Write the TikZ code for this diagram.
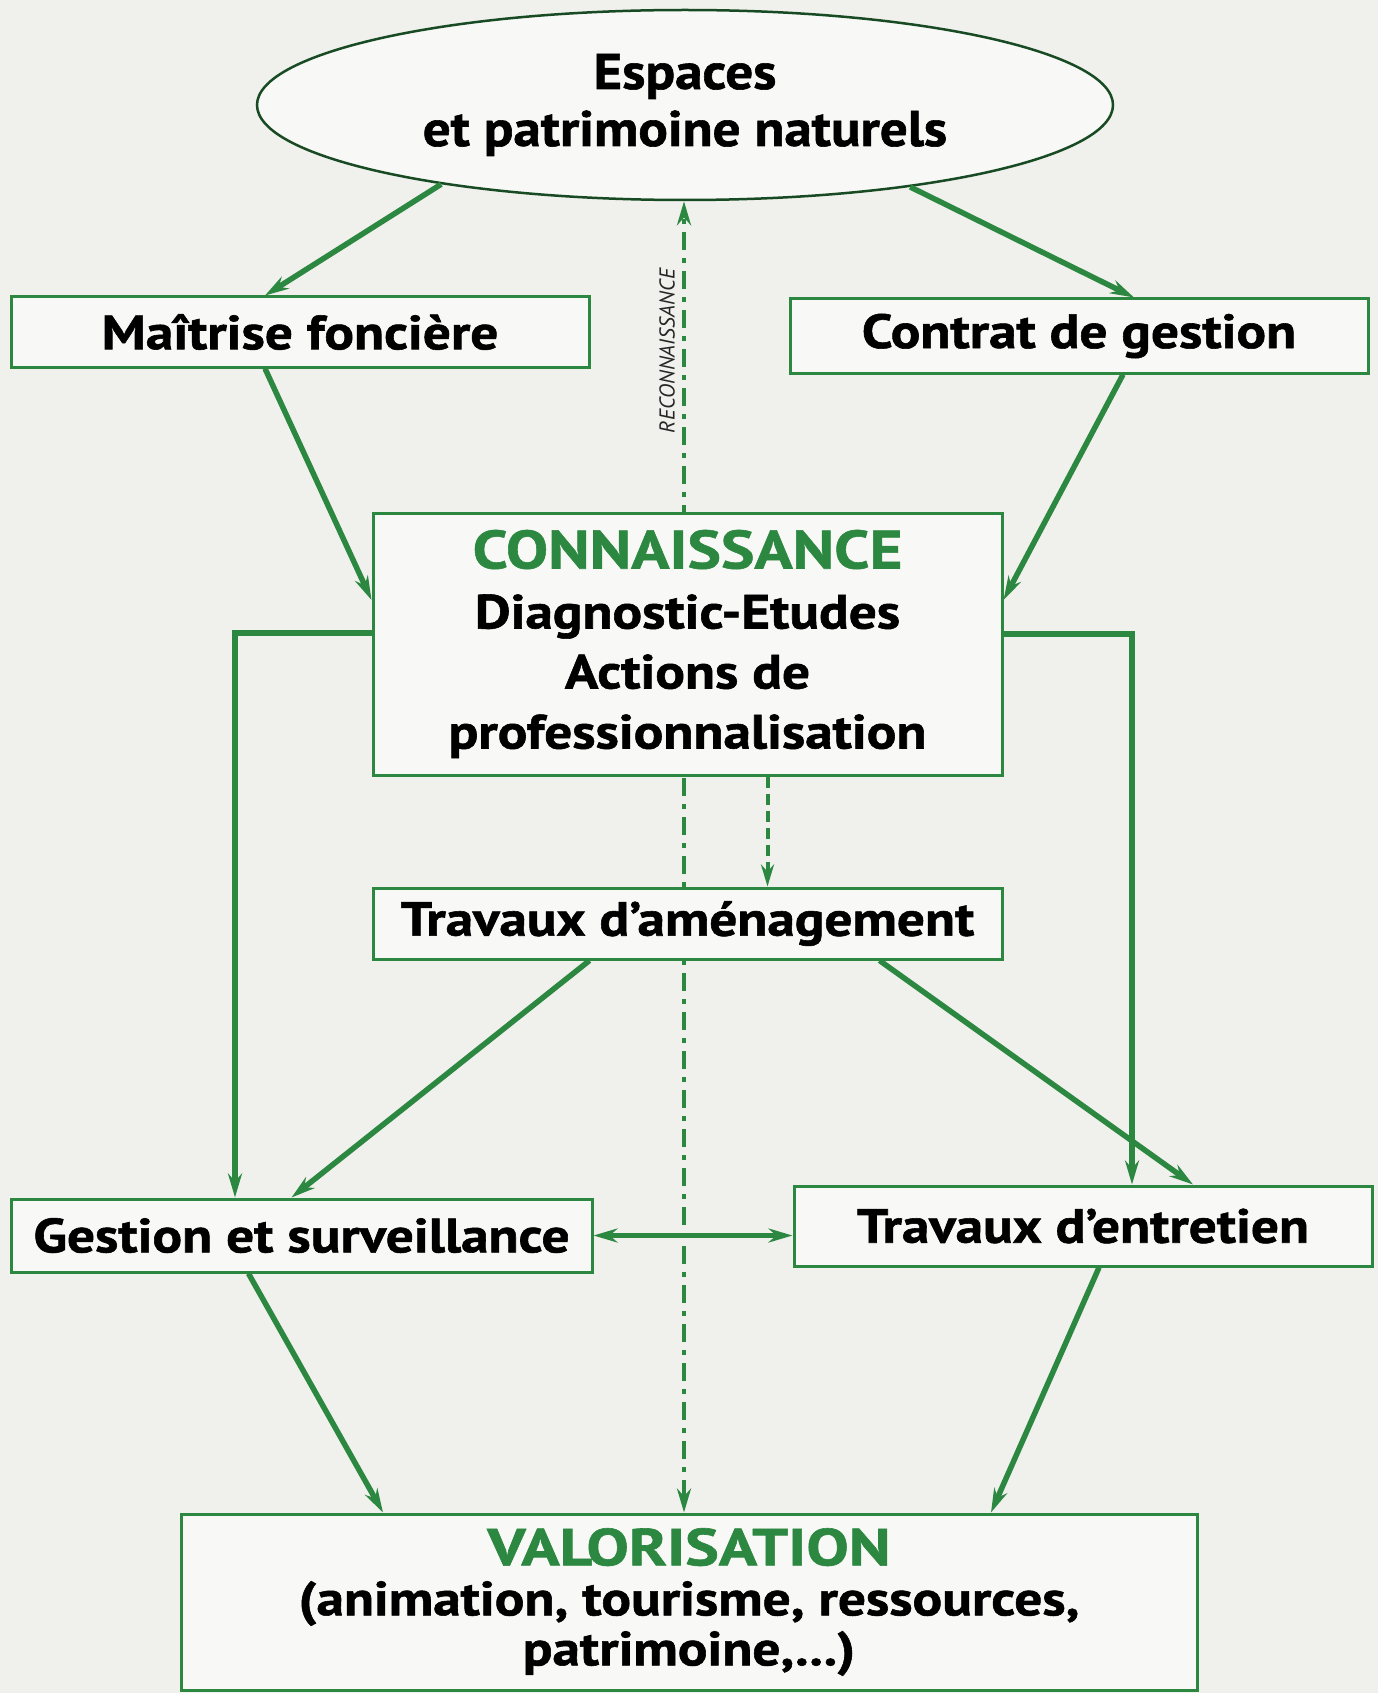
\documentclass[tikz,border=0pt]{standalone}
\usepackage{fontspec}
\usetikzlibrary{arrows.meta,shapes.geometric}
\newfontfamily\labf{PT Sans}[FakeStretch=1.15, BoldFeatures={FakeBold=1.2}]
\newfontfamily\valf{PT Sans}[FakeStretch=1.22, BoldFeatures={FakeBold=1.2}]
\newfontfamily\titf{PT Sans}[FakeStretch=1.1, BoldFeatures={FakeBold=1.2}]
\newfontfamily\conf{PT Sans}[FakeStretch=1.17, BoldFeatures={FakeBold=1.0}]
\newfontfamily\smallf{PT Sans}
\definecolor{dgreen}{RGB}{44,136,64}
\definecolor{bgc}{RGB}{240,240,237}
\definecolor{boxbg}{RGB}{248,248,246}
\pgfdeclarelayer{back}
\pgfdeclarelayer{background}
\pgfsetlayers{back,background,main}
\tikzset{
  box/.style={draw=dgreen, line width=3pt, fill=boxbg, inner sep=0pt, align=center, text=black},
  lab/.style={font=\labf\bfseries\fontsize{48}{56}\selectfont},
  arr/.style={draw=dgreen, line width=5.5pt, -{Stealth[length=24pt,width=14pt]}},
  dbl/.style={draw=dgreen, line width=5.5pt, {Stealth[length=24pt,width=14pt]}-{Stealth[length=24pt,width=14pt]}},
  dsh/.style={draw=dgreen, line width=4pt, dash pattern=on 11pt off 6pt, -{Stealth[length=22pt,width=13pt]}},
  dashdot/.style={draw=dgreen, line width=4.5pt, dash pattern=on 18pt off 8pt on 5pt off 8pt, {Stealth[length=24pt,width=14pt]}-{Stealth[length=24pt,width=14pt]}},
}
\begin{document}
\begin{tikzpicture}[x=1pt,y=-1pt]
\begin{pgfonlayer}{back}
\fill[bgc] (0,0) rectangle (1378,1693);
\end{pgfonlayer}
\useasboundingbox (0,0) rectangle (1378,1693);

\node[ellipse, draw=dgreen!55!black, line width=2.5pt, fill=boxbg, minimum width=856pt, minimum height=190pt, inner sep=0pt, align=center,
  font=\titf\bfseries\fontsize{50}{57}\selectfont] (ell) at (685,105) {Espaces\\et patrimoine naturels};

\node[box, lab, minimum width=578pt, minimum height=70pt] (maitrise) at (300,332) {Maîtrise foncière};
\node[box, lab, minimum width=578pt, minimum height=74pt] (contrat) at (1079,336) {Contrat de gestion};

\node[box, minimum width=629pt, minimum height=262pt, font=\labf\bfseries\fontsize{48}{60}\selectfont] (conn) at (687.5,644)
  {{\conf\fontsize{54}{60}\selectfont\color{dgreen}CONNAISSANCE}\\Diagnostic-Etudes\\Actions de\\professionnalisation};

\node[box, lab, minimum width=629pt, minimum height=71pt] (amen) at (687.5,923.5) {Travaux d’aménagement};

\node[box, lab, minimum width=581pt, minimum height=73pt] (gestion) at (301.5,1235.5) {Gestion et surveillance};
\node[box, lab, minimum width=578pt, minimum height=80pt] (entretien) at (1083,1226) {Travaux d’entretien};

\node[box, minimum width=1016pt, minimum height=176pt, font=\labf\bfseries\fontsize{48}{50}\selectfont] (valor) at (689,1602)
  {{\valf\fontsize{52}{50}\selectfont\color{dgreen}VALORISATION}\\(animation, tourisme, ressources,\\patrimoine,...)};

% connectors
\draw[arr] (ell.198) -- ([xshift=-35pt]maitrise.north);
\draw[arr] (ell.340.5) -- ([xshift=55pt]contrat.north);
\draw[arr] ([xshift=-35pt]maitrise.south) -- ([yshift=44pt]conn.west);
\draw[arr] ([xshift=44pt]contrat.south) -- ([yshift=44pt]conn.east);
\draw[arr] ([yshift=11pt]conn.west) -| ([xshift=-66.5pt]gestion.north);
\draw[arr] ([yshift=10pt]conn.east) -| ([xshift=49pt]entretien.north);
\draw[dsh] ([xshift=80pt]conn.south) -- ([xshift=80pt]amen.north);
\draw[arr] ([xshift=-98pt]amen.south) -- ([xshift=-10pt]gestion.north);
\draw[arr] ([xshift=192pt]amen.south) -- ([xshift=110pt]entretien.north);
\draw[dbl] (gestion.east) -- (gestion.east -| entretien.west);
\draw[arr] ([xshift=-53pt]gestion.south) -- ([xshift=-306pt]valor.north);
\draw[arr] ([xshift=16pt]entretien.south) -- ([xshift=302pt]valor.north);

\begin{pgfonlayer}{background}
\draw[dashdot] ([xshift=-5pt]valor.north) -- ([xshift=-5pt]valor.north |- ell.south);
\end{pgfonlayer}
\node[rotate=90, font=\smallf\itshape\fontsize{21.5}{24}\selectfont, text=black!85] (reclab) at (667,351) {RECONNAISSANCE};
\end{tikzpicture}
\end{document}
